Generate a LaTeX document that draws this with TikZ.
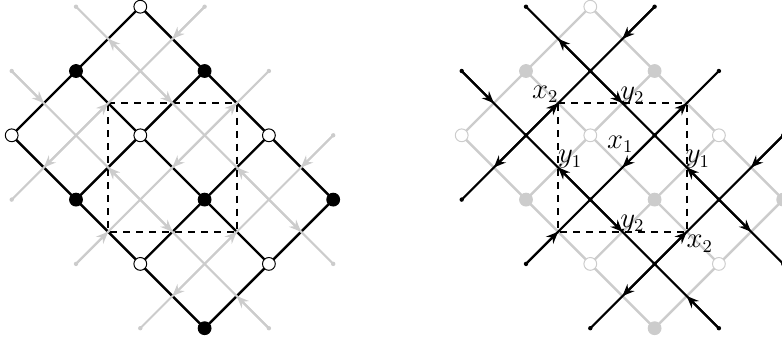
\documentclass[tikz,border=0pt]{standalone}
\usetikzlibrary{arrows.meta,calc}
\definecolor{lgrey}{gray}{0.8}
\begin{document}
\begin{tikzpicture}[x=0.5pt,y=-0.5pt,
  latline/.style={line width=1.2pt},
  dualline/.style={line width=1.05pt},
  arr/.style={-{Stealth[length=6pt,width=5pt,inset=2pt]}, line width=1.05pt},
  dashbox/.style={line width=1.1pt, dash pattern=on 3.5pt off 3pt},
  vert/.style={circle, minimum size=6.4pt, inner sep=0pt, line width=0.5pt},
  lwhite/.style={vert, draw=black, fill=white},
  lblack/.style={vert, draw=black, fill=black},
  rwhite/.style={vert, draw=lgrey, fill=white},
  rblack/.style={vert, draw=lgrey, fill=lgrey},
  lab/.style={inner sep=0pt, font=\fontsize{13.5}{16}\selectfont}]
\useasboundingbox (0,0) rectangle (782,339);
% lattice coordinates (doubled indices)
\foreach \I in {0,...,10}{
  \foreach \J in {0,...,10}{
    \coordinate (l-\I-\J) at ({11.7+32.15*\I},{6.7+32.15*\J});
    \coordinate (r-\I-\J) at ({461.7+32.15*\I},{6.7+32.15*\J});
  }
}
% ================= LEFT =================
\foreach \a/\b in {4-0/10-6, 2-2/8-8, 0-4/6-10, 4-0/0-4, 6-2/2-6, 8-4/4-8, 10-6/6-10}
  \draw[latline] (l-\a) -- (l-\b);
\draw[dashbox] (l-3-3) -- (l-7-3) -- (l-7-7) -- (l-3-7) -- cycle;
\foreach \a/\b in {2-0/10-8, 0-2/8-10, 0-6/6-0, 2-8/8-2, 4-10/10-4}
  \draw[dualline, lgrey] (l-\a) -- (l-\b);
\foreach \f/\m in {4-2/3-1, 4-2/5-3, 8-6/7-5, 8-6/9-7,
                   0-2/1-3, 4-6/3-5, 4-6/5-7, 8-10/7-9,
                   6-0/5-1, 2-4/3-3, 2-4/1-5,
                   6-4/7-3, 6-4/5-5, 2-8/3-7,
                   10-4/9-5, 6-8/7-7, 6-8/5-9}
  \draw[arr, lgrey] (l-\f) -- (l-\m);
\foreach \p in {2-0, 10-8, 0-2, 8-10, 0-6, 6-0, 2-8, 8-2, 4-10, 10-4}
  \fill[lgrey] (l-\p) circle[radius=1.1pt];
\foreach \p in {4-0, 0-4, 4-4, 8-4, 4-8, 8-8}
  \node[lwhite] (lv-\p) at (l-\p) {};
\foreach \p in {2-2, 6-2, 2-6, 6-6, 10-6, 6-10}
  \node[lblack] (lv-\p) at (l-\p) {};
% ================= RIGHT =================
\foreach \a/\b in {4-0/10-6, 2-2/8-8, 0-4/6-10, 4-0/0-4, 6-2/2-6, 8-4/4-8, 10-6/6-10}
  \draw[latline, lgrey] (r-\a) -- (r-\b);
\foreach \p in {4-0, 0-4, 4-4, 8-4, 4-8, 8-8}
  \node[rwhite] (rv-\p) at (r-\p) {};
\foreach \p in {2-2, 6-2, 2-6, 6-6, 10-6, 6-10}
  \node[rblack] (rv-\p) at (r-\p) {};
\draw[dashbox] (r-3-3) -- (r-7-3) -- (r-7-7) -- (r-3-7) -- cycle;
\foreach \a/\b in {2-0/10-8, 0-2/8-10, 0-6/6-0, 2-8/8-2, 4-10/10-4}
  \draw[dualline] (r-\a) -- (r-\b);
\foreach \f/\m in {4-2/3-1, 4-2/5-3, 8-6/7-5, 8-6/9-7,
                   0-2/1-3, 4-6/3-5, 4-6/5-7, 8-10/7-9,
                   6-0/5-1, 2-4/3-3, 2-4/1-5,
                   6-4/7-3, 6-4/5-5, 2-8/3-7,
                   10-4/9-5, 6-8/7-7, 6-8/5-9}
  \draw[arr] (r-\f) -- (r-\m);
\foreach \p in {2-0, 10-8, 0-2, 8-10, 0-6, 6-0, 2-8, 8-2, 4-10, 10-4,
                4-2, 6-4, 8-6, 2-4, 4-6, 6-8}
  \fill (r-\p) circle[radius=1.1pt];
% labels
\node[lab] (lx2a) at ($(r-3-3)+(-13,-9)$) {$x_2$};
\node[lab] (ly2a) at ($(r-5-3)+(10,-7)$) {$y_2$};
\node[lab] (lx1)  at ($(r-4-4)+(30,9)$) {$x_1$};
\node[lab] (ly1a) at ($(r-3-5)+(12,-8)$) {$y_1$};
\node[lab] (ly1b) at ($(r-7-5)+(11,-8)$) {$y_1$};
\node[lab] (ly2b) at ($(r-5-7)+(10,-8)$) {$y_2$};
\node[lab] (lx2b) at ($(r-7-7)+(13,12)$) {$x_2$};
\end{tikzpicture}
\end{document}
